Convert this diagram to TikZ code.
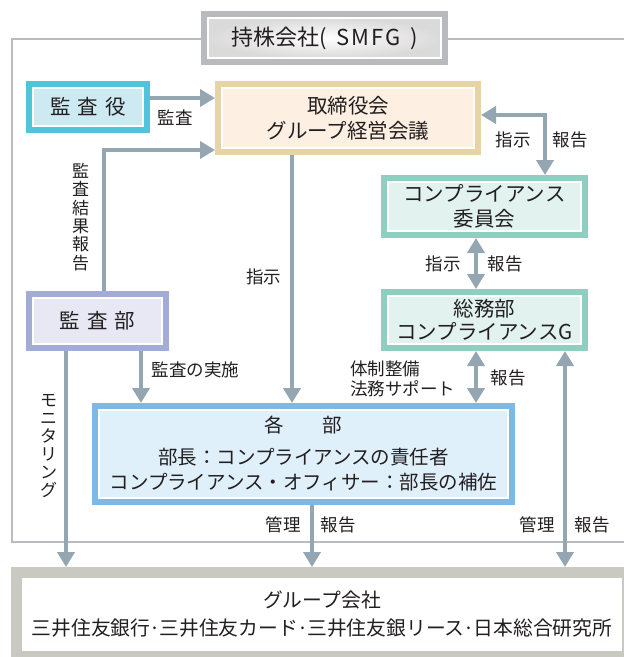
\documentclass[tikz,border=0pt]{standalone}
\usepackage{fontspec}
\setmainfont{Noto Sans CJK JP}
\usepackage{tikz}
\usetikzlibrary{arrows.meta}
\tikzset{>={Triangle[length=15pt,width=17pt]}}
\usepackage{xcolor}
\definecolor{inkc}{RGB}{35,31,32}
\definecolor{arrowgray}{RGB}{148,166,177}
\definecolor{framegray}{RGB}{184,188,191}
\definecolor{titleedge}{RGB}{185,186,190}
\definecolor{titlefill}{RGB}{218,218,218}
\definecolor{yakuedge}{RGB}{80,196,216}
\definecolor{yakufill}{RGB}{205,234,242}
\definecolor{boardedge}{RGB}{230,212,166}
\definecolor{boardfill}{RGB}{253,240,226}
\definecolor{compedge}{RGB}{143,207,193}
\definecolor{compfill}{RGB}{226,243,239}
\definecolor{buedge}{RGB}{163,172,217}
\definecolor{bufill}{RGB}{231,232,243}
\definecolor{kakuedge}{RGB}{125,185,228}
\definecolor{kakufill}{RGB}{223,240,251}
\definecolor{groupedge}{RGB}{201,201,193}
\tikzset{
  orgbox/.style 2 args={preaction={draw=#1,line width=14pt},draw=white,line width=2pt,fill=#2,
    outer sep=7pt,inner sep=0pt,align=center,text=inkc,font=\fontsize{20.5}{25}\selectfont},
  arr/.style={draw=arrowgray,line width=4.5pt,->},
  arrs/.style={draw=arrowgray,line width=4.5pt,<->},
  lbl/.style={text=inkc,inner sep=0pt,font=\fontsize{17.5}{20}\selectfont},
}

\begin{document}
\begin{tikzpicture}[x=1pt,y=-1pt]
        \path[use as bounding box,clip] (0,0) rectangle (624,657);

        % FRAME
        \draw[framegray,line width=2pt] (630,39) -- (12,39) -- (12,542) -- (630,542);

        % BOXES
        \node[orgbox={titleedge}{white},shade,inner color=white,outer color=titlefill,
          minimum width=233,minimum height=40,font=\fontsize{22}{26}\selectfont]
          (hd) at (324.5,38) {持株会社(\hspace{0.45em}S\kern2pt M\kern2pt F\kern2pt G\hspace{0.45em})};
        \node[orgbox={yakuedge}{yakufill},minimum width=110,minimum height=38]
          (yaku) at (88,107) {監\hspace{0.33em}査\hspace{0.33em}役};
        \node[orgbox={boardedge}{boardfill},minimum width=252,minimum height=60]
          (board) at (348,118) {取締役会\\グループ経営会議};
        \node[orgbox={compedge}{compfill},minimum width=193,minimum height=49]
          (iin) at (484.5,206.5) {コンプライアンス\\委員会};
        \node[orgbox={compedge}{compfill},minimum width=193,minimum height=48,
          font=\fontsize{20.5}{23}\selectfont]
          (soumu) at (484.5,320) {総務部\\コンプライアンスG};
        \node[orgbox={buedge}{bufill},minimum width=129,minimum height=46]
          (bu) at (97.5,321) {監\hspace{0.33em}査\hspace{0.33em}部};
        \node[orgbox={kakuedge}{kakufill},minimum width=409,minimum height=88,
          font=\fontsize{19.5}{25}\selectfont]
          (kaku) at (303.5,454) {各\hspace{2em}部\\[7pt]部長：コンプライアンスの責任者\\コンプライアンス・オフィサー：部長の補佐};
        \node[draw=groupedge,line width=11pt,fill=white,outer sep=5.5pt,inner sep=0pt,
          minimum width=611,minimum height=84,align=center,text=inkc,
          font=\fontsize{19.8}{28}\selectfont]
          (group) at (322,614.5) {グループ会社\\三井住友銀行\kern-1pt·\kern-1pt三井住友カード\kern-1pt·\kern-1pt三井住友銀リース\kern-1pt·\kern-1pt日本総合研究所};

        % ARROWS
        \coordinate (k1) at ([yshift=9pt]yaku.east);
        \coordinate (s1) at ([xshift=-56pt]board.south);
        \coordinate (c1) at ([xshift=60.5pt]iin.north);
        \coordinate (c2) at ([xshift=-8.5pt]iin.south);
        \coordinate (c3) at ([xshift=-8.5pt]soumu.south);
        \coordinate (c4) at ([xshift=80.5pt]soumu.south);
        \coordinate (c5) at ([xshift=8.5pt]kaku.south);
        \coordinate (c6) at ([xshift=43.5pt]bu.south);
        \coordinate (c7) at ([xshift=-31.5pt]bu.south);
        \draw[arr] (k1) -- (k1 -| board.west);
        \draw[arr] ([xshift=6.5pt]bu.north) |- ([yshift=-32pt]board.west);
        \draw[arr] (s1) -- (s1 |- kaku.north);
        \draw[arrs] (c1) |- ([yshift=3pt]board.east);
        \draw[arrs] (c2) -- (c2 |- soumu.north);
        \draw[arrs] (c3) -- (c3 |- kaku.north);
        \draw[arrs] (c4) -- (c4 |- group.north);
        \draw[arr] (c5) -- (c5 |- group.north);
        \draw[arr] (c6) -- (c6 |- kaku.north);
        \draw[arr] (c7) -- (c7 |- group.north);

        % LABELS
        \node[lbl] (lKansa) at (175,118) {監査};
        \node[lbl,align=center,font=\fontsize{17}{18.3}\selectfont] (lKekka) at (80.5,217) {監\\査\\結\\果\\報\\告};
        \node[lbl,align=center,font=\fontsize{17}{18}\selectfont] (lMoni) at (48.5,446) {モ\\ニ\\タ\\リ\\ン\\グ};
        \node[lbl] (lShiji1) at (263.5,277) {指示};
        \node[lbl] (lShiji2) at (513,140) {指示};
        \node[lbl] (lHou2) at (570,140) {報告};
        \node[lbl] (lShiji3) at (443,264) {指示};
        \node[lbl] (lHou3) at (505,264) {報告};
        \node[lbl] (lJisshi) at (195.5,370) {監査の実施};
        \node[lbl,align=left,anchor=west] (lTaisei) at (350,378.5) {体制整備\\法務サポート};
        \node[lbl] (lHou4) at (508,378) {報告};
        \node[lbl] (lKanri1) at (283,525) {管理};
        \node[lbl] (lHou5) at (338,525) {報告};
        \node[lbl] (lKanri2) at (537,525) {管理};
        \node[lbl] (lHou6) at (592,525) {報告};

    \end{tikzpicture}
\end{document}
